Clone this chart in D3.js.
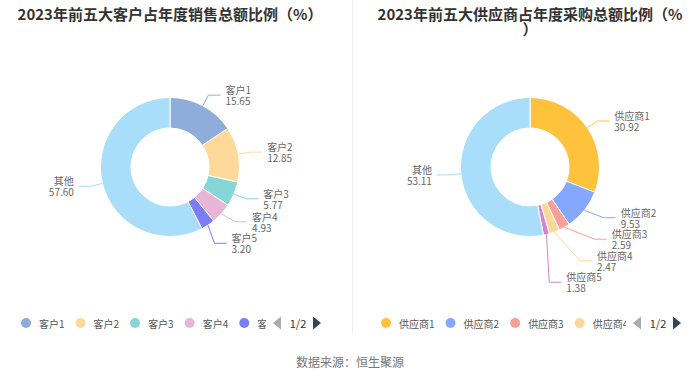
<!DOCTYPE html>
<html>
<head>
<meta charset="utf-8">
<script src="https://cdn.jsdelivr.net/npm/d3@7"></script>
<style>
  body { margin: 0; background: #fff; }
  svg text { font-family: "Noto Sans CJK SC", "Noto Sans", sans-serif; }
</style>
</head>
<body>
<div id="chart-area"></div>
<script>
// ---- data ----
var customerNames = ["客户1", "客户2", "客户3", "客户4", "客户5", "其他"];
var customerValues = [15.65, 12.85, 5.77, 4.93, 3.20, 57.60];
var customerColors = ["#8EADDB", "#FFD99A", "#86D5D7", "#E7B6D7", "#7B7DF5", "#A8DEF9"];

var supplierNames = ["供应商1", "供应商2", "供应商3", "供应商4", "供应商5", "其他"];
var supplierValues = [30.92, 9.53, 2.59, 2.47, 1.38, 53.11];
var supplierColors = ["#FFC23D", "#86A7FE", "#F8A097", "#FFD899", "#D485C9", "#A8DEF9"];

var titles = ["2023年前五大客户占年度销售总额比例（%）", "2023年前五大供应商占年度采购总额比例（%）"];
var sourceText = "数据来源：恒生聚源";

// ---- layout ----
var svgWidth = 700, svgHeight = 378;
var outerR = 69.5, innerR = 39, cy = 167;
var len1 = 12, len2 = 12, labelGap = 5, labelH = 21.5;

var svg = d3.select("#chart-area")
            .append("svg")
            .attr("width", svgWidth)
            .attr("height", svgHeight);

svg.append("line")
   .attr("x1", 352.5).attr("x2", 352.5)
   .attr("y1", 0).attr("y2", 333)
   .attr("stroke", "#eeeeee");

svg.append("text")
   .attr("x", svgWidth / 2)
   .attr("y", 361)
   .attr("text-anchor", "middle")
   .attr("dominant-baseline", "central")
   .attr("font-size", 12)
   .attr("fill", "#777")
   .text(sourceText);

drawDonut(170, titles[0], customerNames, customerValues, customerColors);
drawDonut(530, titles[1], supplierNames, supplierValues, supplierColors);

function drawDonut(cx, title, names, values, colors) {
  var g = svg.append("g");

  // title, wrapped when too wide
  var t = g.append("text")
           .attr("x", cx)
           .attr("y", 13)
           .attr("text-anchor", "middle")
           .attr("dominant-baseline", "central")
           .attr("font-size", 15)
           .attr("font-weight", "bold")
           .attr("fill", "#333");
  var chars = Array.from(title), line = "", lines = [];
  var probe = t.append("tspan");
  chars.forEach(function(c) {
    probe.text(line + c);
    if (probe.node().getComputedTextLength() > 310 && line) {
      lines.push(line);
      line = c;
    } else {
      line += c;
    }
  });
  lines.push(line);
  probe.remove();
  lines.forEach(function(l, i) {
    t.append("tspan").attr("x", cx).attr("dy", i ? 15 : 0).text(l);
  });

  var color = d3.scaleOrdinal().domain(names).range(colors);
  var data = names.map(function(n, i) { return { name: n, value: values[i] }; });

  var pie = d3.pie().sort(null).value(function(d) { return d.value; });
  var arcs = pie(data);
  var arc = d3.arc().innerRadius(innerR).outerRadius(outerR);

  var chart = g.append("g").attr("transform", "translate(" + cx + "," + cy + ")");

  chart.selectAll("path")
       .data(arcs)
       .enter().append("path")
       .attr("d", arc)
       .attr("fill", function(d) { return color(d.data.name); })
       .attr("stroke", "#fff")
       .attr("stroke-width", 1);

  // label layout (outer labels with guide lines, shifted on overlap)
  var labels = arcs.map(function(d) {
    var a = (d.startAngle + d.endAngle) / 2;
    var sx = Math.sin(a), sy = -Math.cos(a);
    return {
      d: d,
      dir: sx < 0 ? -1 : 1,
      p1: [sx * outerR, sy * outerR],
      ex: sx * (outerR + len1),
      ey: sy * (outerR + len1)
    };
  });

  [-1, 1].forEach(function(dir) {
    var side = labels.filter(function(l) { return l.dir === dir; })
                     .sort(function(a, b) { return a.ey - b.ey; });
    var shifted = false;
    for (var i = 1; i < side.length; i++) {
      if (side[i].ey - side[i - 1].ey < labelH) {
        side[i].ey = side[i - 1].ey + labelH;
        shifted = true;
      }
    }
    if (!shifted) return;
    var rA = outerR + len1;
    [side.filter(function(l) { return l.ey <= 0; }),
     side.filter(function(l) { return l.ey > 0; })].forEach(function(semi) {
      if (!semi.length) return;
      var far = semi.reduce(function(m, l) { return Math.abs(l.ey) >= Math.abs(m.ey) ? l : m; });
      var dy0 = Math.abs(far.ey), dx0 = Math.abs(far.ex);
      var rB = dx0 < rA ? Math.sqrt(dy0 * dy0 / (1 - dx0 * dx0 / rA / rA)) : rA;
      semi.forEach(function(l) {
        var dy = Math.abs(l.ey);
        l.ex = dir * Math.sqrt(Math.max(0, 1 - dy * dy / rB / rB)) * rA;
      });
    });
  });

  var lab = chart.selectAll("g.label")
                 .data(labels)
                 .enter().append("g")
                 .attr("class", "label");

  lab.append("polyline")
     .attr("points", function(l) {
       return [l.p1, [l.ex, l.ey], [l.ex + l.dir * len2, l.ey]].join(" ");
     })
     .attr("fill", "none")
     .attr("stroke", function(l) { return color(l.d.data.name); })
     .attr("stroke-width", 1);

  var lt = lab.append("text")
              .attr("text-anchor", function(l) { return l.dir < 0 ? "end" : "start"; })
              .attr("font-size", 10)
              .attr("fill", "#666");
  lt.append("tspan")
    .attr("x", function(l) { return l.ex + l.dir * (len2 + labelGap); })
    .attr("y", function(l) { return l.ey - 5.5; })
    .attr("dominant-baseline", "central")
    .text(function(l) { return l.d.data.name; });
  lt.append("tspan")
    .attr("x", function(l) { return l.ex + l.dir * (len2 + labelGap); })
    .attr("y", function(l) { return l.ey + 5.5; })
    .attr("dominant-baseline", "central")
    .text(function(l) { return l.d.data.value.toFixed(2); });

  // legend with pager
  var boxL = cx - 150, boxR = cx + 150, ly = 323;
  var clipId = "clip" + cx;
  svg.append("clipPath").attr("id", clipId)
     .append("rect")
     .attr("x", boxL).attr("y", ly - 10)
     .attr("width", boxR - 54 - boxL).attr("height", 20);

  var legend = g.append("g").attr("clip-path", "url(#" + clipId + ")");
  var xPos = boxL;
  names.slice(0, 5).forEach(function(n) {
    legend.append("circle")
          .attr("cx", xPos + 6).attr("cy", ly).attr("r", 5)
          .attr("fill", color(n));
    var tx = legend.append("text")
                   .attr("x", xPos + 19).attr("y", ly)
                   .attr("dominant-baseline", "central")
                   .attr("font-size", 10)
                   .attr("fill", "#555")
                   .text(n);
    xPos += 19 + tx.node().getComputedTextLength() + 10;
  });

  g.append("path")
   .attr("d", d3.line()([[boxR - 39, ly - 6.5], [boxR - 39, ly + 6.5], [boxR - 47, ly]]))
   .attr("fill", "#aaa");
  g.append("text")
   .attr("x", boxR - 22).attr("y", ly)
   .attr("text-anchor", "middle")
   .attr("dominant-baseline", "central")
   .attr("font-size", 11)
   .attr("fill", "#333")
   .text("1/2");
  g.append("path")
   .attr("d", d3.line()([[boxR - 7, ly - 6.5], [boxR - 7, ly + 6.5], [boxR + 1, ly]]))
   .attr("fill", "#2F4554");
}
</script>
</body>
</html>
